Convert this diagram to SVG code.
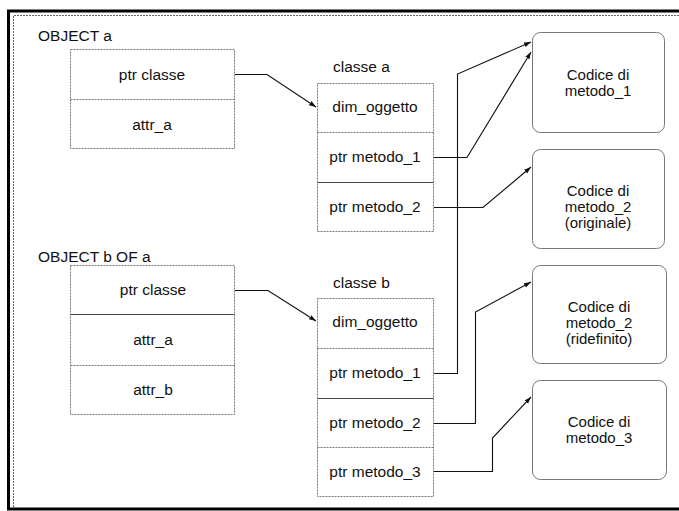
<svg xmlns="http://www.w3.org/2000/svg" width="679" height="511" viewBox="0 0 679 511">
<defs>
<marker id="ah" viewBox="0 0 10 10" refX="10" refY="5" markerWidth="7" markerHeight="7" orient="auto" markerUnits="userSpaceOnUse">
<path d="M0,1.5 L10,5 L0,8.5 z" fill="#111"/>
</marker>
</defs>
<style>
text{font-family:"Liberation Sans",Arial,sans-serif;font-size:15.5px;fill:#111}
.c{text-anchor:middle}
.k{font-size:15px}
.box{fill:none;stroke:#777;stroke-width:1;stroke-dasharray:2 1}
.div{stroke:#777;stroke-width:1;stroke-dasharray:2 1}
.divs{stroke:#444;stroke-width:1}
.code{fill:none;stroke:#777;stroke-width:1}
.conn path{fill:none;stroke:#111;stroke-width:1.1;marker-end:url(#ah)}
</style>
<rect width="679" height="511" fill="#fff"/>
<g id="frame">
<path d="M679,11 H8.5 V509 H679" fill="none" stroke="#000" stroke-width="3"/>
<path d="M679,15.5 H13.5 V508" fill="none" stroke="#666" stroke-width="1" stroke-dasharray="2 1"/>
</g>
<g id="object-a">
<text x="38" y="41">OBJECT a</text>
<rect class="box" x="70.5" y="49.5" width="164" height="99"/>
<line class="div" x1="70.5" y1="99.5" x2="234.5" y2="99.5"/>
<text class="c" x="152" y="80">ptr classe</text>
<text class="c" x="152" y="130">attr_a</text>
</g>
<g id="object-b">
<text x="38" y="262">OBJECT b OF a</text>
<rect class="box" x="70.5" y="265.5" width="164" height="149"/>
<line class="divs" x1="70.5" y1="314.5" x2="234.5" y2="314.5"/>
<line class="div" x1="70.5" y1="365.5" x2="234.5" y2="365.5"/>
<text class="c" x="153" y="295">ptr classe</text>
<text class="c" x="153" y="345">attr_a</text>
<text class="c" x="153" y="395">attr_b</text>
</g>
<g id="classe-a">
<text x="333" y="72">classe a</text>
<rect class="box" x="317.5" y="83.5" width="116" height="148"/>
<line class="div" x1="317.5" y1="132.5" x2="433.5" y2="132.5"/>
<line class="divs" x1="317.5" y1="182.5" x2="433.5" y2="182.5"/>
<text class="c" x="375" y="112">dim_oggetto</text>
<text class="c" x="375" y="162">ptr metodo_1</text>
<text class="c" x="375" y="212">ptr metodo_2</text>
</g>
<g id="classe-b">
<text x="333" y="288">classe b</text>
<rect class="box" x="317.5" y="298.5" width="116" height="198"/>
<line class="div" x1="317.5" y1="348.5" x2="433.5" y2="348.5"/>
<line class="divs" x1="317.5" y1="398.5" x2="433.5" y2="398.5"/>
<line class="div" x1="317.5" y1="447.5" x2="433.5" y2="447.5"/>
<text class="c" x="375" y="327">dim_oggetto</text>
<text class="c" x="375" y="378">ptr metodo_1</text>
<text class="c" x="375" y="428">ptr metodo_2</text>
<text class="c" x="375" y="477">ptr metodo_3</text>
</g>
<g id="codice-1">
<rect class="code" x="532.5" y="32.5" width="132" height="100" rx="8"/>
<text class="c k" x="598" y="80">Codice di</text>
<text class="c k" x="598" y="96">metodo_1</text>
</g>
<g id="codice-2">
<rect class="code" x="532.5" y="149.5" width="132" height="99" rx="8"/>
<text class="c k" x="598" y="196">Codice di</text>
<text class="c k" x="598" y="212">metodo_2</text>
<text class="c k" x="598" y="228">(originale)</text>
</g>
<g id="codice-3">
<rect class="code" x="532.5" y="265.5" width="134" height="98" rx="8"/>
<text class="c k" x="599" y="312">Codice di</text>
<text class="c k" x="599" y="328">metodo_2</text>
<text class="c k" x="599" y="344">(ridefinito)</text>
</g>
<g id="codice-4">
<rect class="code" x="532.5" y="380.5" width="134" height="99" rx="8"/>
<text class="c k" x="599" y="427">Codice di</text>
<text class="c k" x="599" y="443">metodo_3</text>
</g>
<g id="connectors" class="conn">
<path d="M235,74.5 H267 L316,107"/>
<path d="M235,290.5 H268 L316,321"/>
<path d="M434,157.5 H467 L531,52"/>
<path d="M434,373.5 H457.5 V74 L531,42"/>
<path d="M434,207.5 H483 L531,167"/>
<path d="M434,423.5 H475.5 V312 L531,282"/>
<path d="M434,471.5 H492.5 V438 L531,397"/>
</g>
</svg>
